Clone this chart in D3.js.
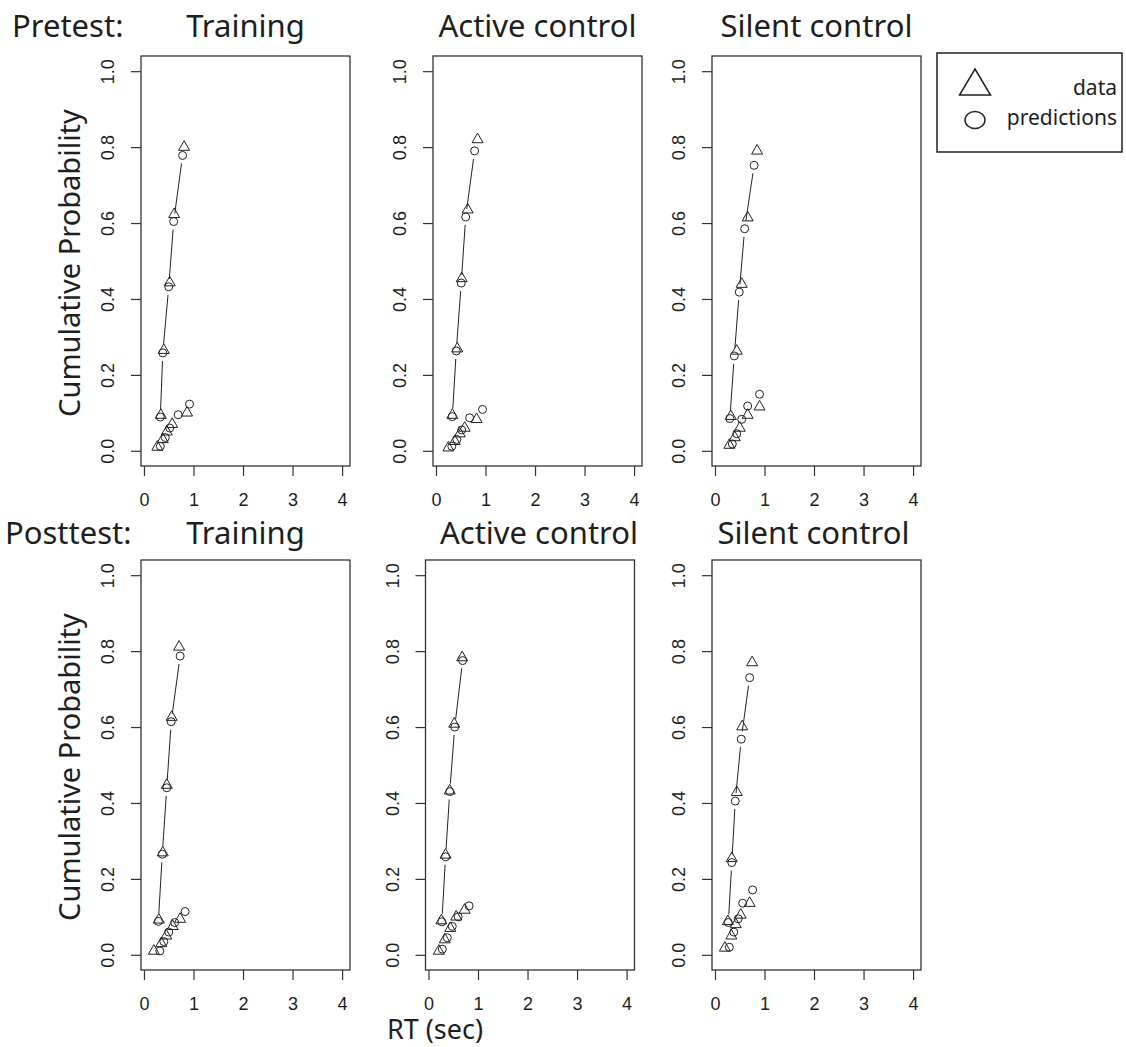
<!DOCTYPE html>
<html>
<head>
<meta charset="utf-8">
<script src="https://cdn.jsdelivr.net/npm/d3@7"></script>
<style>
  html, body { margin: 0; padding: 0; background: #fff; }
  svg { display: block; }
</style>
</head>
<body>
<svg id="chart" width="1126" height="1047"></svg>
<script>
// Conditions and sessions
const conditions = ["Training", "Active control", "Silent control"];
const sessions = ["Pretest:", "Posttest:"];
const xTicks = [0, 1, 2, 3, 4];
const yTicks = [0, 0.2, 0.4, 0.6, 0.8, 1.0];
const legendLabels = ["data", "predictions"];

// Quantile RTs (sec) and cumulative probabilities: [rt, p]
// Pretest – Training
const preTrainingDataCorrect = [[0.34, 0.094], [0.40, 0.265], [0.52, 0.443], [0.61, 0.623], [0.81, 0.800]];
const preTrainingPredCorrect = [[0.33, 0.089], [0.38, 0.258], [0.50, 0.432], [0.60, 0.604], [0.78, 0.778]];
const preTrainingDataError   = [[0.27, 0.010], [0.38, 0.030], [0.46, 0.050], [0.57, 0.070], [0.87, 0.100]];
const preTrainingPredError   = [[0.33, 0.012], [0.43, 0.035], [0.52, 0.060], [0.69, 0.095], [0.92, 0.123]];
// Pretest – Active control
const preActiveDataCorrect = [[0.33, 0.094], [0.43, 0.269], [0.52, 0.454], [0.64, 0.635], [0.84, 0.820]];
const preActivePredCorrect = [[0.33, 0.090], [0.41, 0.263], [0.51, 0.442], [0.60, 0.616], [0.78, 0.790]];
const preActiveDataError   = [[0.25, 0.008], [0.38, 0.025], [0.48, 0.045], [0.58, 0.060], [0.82, 0.083]];
const preActivePredError   = [[0.32, 0.012], [0.42, 0.030], [0.52, 0.055], [0.68, 0.087], [0.94, 0.109]];
// Pretest – Silent control
const preSilentDataCorrect = [[0.32, 0.091], [0.44, 0.263], [0.54, 0.439], [0.66, 0.614], [0.85, 0.790]];
const preSilentPredCorrect = [[0.30, 0.085], [0.39, 0.250], [0.49, 0.418], [0.60, 0.585], [0.79, 0.752]];
const preSilentDataError   = [[0.29, 0.015], [0.40, 0.035], [0.50, 0.060], [0.66, 0.094], [0.90, 0.116]];
const preSilentPredError   = [[0.35, 0.018], [0.44, 0.045], [0.54, 0.083], [0.66, 0.118], [0.90, 0.149]];
// Posttest – Training
const postTrainingDataCorrect = [[0.30, 0.092], [0.38, 0.269], [0.46, 0.447], [0.56, 0.626], [0.71, 0.811]];
const postTrainingPredCorrect = [[0.29, 0.088], [0.37, 0.265], [0.46, 0.440], [0.55, 0.614], [0.73, 0.787]];
const postTrainingDataError   = [[0.20, 0.010], [0.35, 0.030], [0.45, 0.050], [0.58, 0.075], [0.73, 0.094]];
const postTrainingPredError   = [[0.32, 0.010], [0.40, 0.035], [0.50, 0.060], [0.62, 0.085], [0.83, 0.114]];
// Posttest – Active control
const postActiveDataCorrect = [[0.26, 0.090], [0.345, 0.263], [0.43, 0.432], [0.52, 0.608], [0.68, 0.783]];
const postActivePredCorrect = [[0.27, 0.087], [0.345, 0.258], [0.43, 0.430], [0.53, 0.600], [0.69, 0.775]];
const postActiveDataError   = [[0.21, 0.010], [0.33, 0.040], [0.44, 0.070], [0.56, 0.100], [0.73, 0.118]];
const postActivePredError   = [[0.28, 0.015], [0.38, 0.045], [0.48, 0.075], [0.60, 0.100], [0.82, 0.129]];
// Posttest – Silent control
const postSilentDataCorrect = [[0.26, 0.088], [0.34, 0.254], [0.44, 0.428], [0.55, 0.601], [0.75, 0.770]];
const postSilentPredCorrect = [[0.27, 0.085], [0.34, 0.243], [0.41, 0.405], [0.53, 0.568], [0.70, 0.730]];
const postSilentDataError   = [[0.20, 0.018], [0.33, 0.050], [0.42, 0.080], [0.52, 0.105], [0.70, 0.136]];
const postSilentPredError   = [[0.29, 0.020], [0.38, 0.060], [0.47, 0.095], [0.56, 0.136], [0.76, 0.171]];

const panelData = [
  [
    { dc: preTrainingDataCorrect, pc: preTrainingPredCorrect, de: preTrainingDataError, pe: preTrainingPredError },
    { dc: preActiveDataCorrect,   pc: preActivePredCorrect,   de: preActiveDataError,   pe: preActivePredError },
    { dc: preSilentDataCorrect,   pc: preSilentPredCorrect,   de: preSilentDataError,   pe: preSilentPredError }
  ],
  [
    { dc: postTrainingDataCorrect, pc: postTrainingPredCorrect, de: postTrainingDataError, pe: postTrainingPredError },
    { dc: postActiveDataCorrect,   pc: postActivePredCorrect,   de: postActiveDataError,   pe: postActivePredError },
    { dc: postSilentDataCorrect,   pc: postSilentPredCorrect,   de: postSilentDataError,   pe: postSilentPredError }
  ]
];

// ---- layout ----
const svg = d3.select("#chart");
svg.append("rect").attr("width", 1126).attr("height", 1047).attr("fill", "#fff");

const rowTop = [56, 560];
const boxH = 410, boxW = 209;
const colLeft = [[141, 433, 712], [141, 425.5, 712]];
const titleX = [[245.5, 537.5, 816.5], [245.5, 539, 813.5]];
const titleBaseline = [37, 544];
const sessionX = [12, 5];

const ink = "#1e1e1e";
const titleFont = "'Noto Sans', 'Open Sans', sans-serif";
const tickFont = "'Liberation Sans', Arial, sans-serif";

// R-style open triangle centred on its centroid
function triPath(s) {
  const h = s * 0.87;
  return `M0,${-h * 2 / 3}L${s / 2},${h / 3}L${-s / 2},${h / 3}Z`;
}

for (let r = 0; r < 2; r++) {
  svg.append("text")
    .attr("x", sessionX[r]).attr("y", titleBaseline[r])
    .attr("font-family", titleFont).attr("font-size", 31).attr("fill", ink)
    .text(sessions[r]);

  svg.append("text")
    .attr("transform", `translate(80,${rowTop[r] + boxH / 2 + 2}) rotate(-90)`)
    .attr("text-anchor", "middle")
    .attr("font-family", titleFont).attr("font-size", 29).attr("fill", ink)
    .text("Cumulative Probability");

  for (let c = 0; c < 3; c++) {
    const left = colLeft[r][c], top = rowTop[r];
    const x = d3.scaleLinear().domain([-0.06, 4.16]).range([left, left + boxW]);
    const y = d3.scaleLinear().domain([-0.04, 1.04]).range([top + boxH, top]);
    const g = svg.append("g");

    svg.append("text")
      .attr("x", titleX[r][c]).attr("y", titleBaseline[r])
      .attr("text-anchor", "middle")
      .attr("font-family", titleFont).attr("font-size", 31).attr("fill", ink)
      .text(conditions[c]);

    // x axis
    const xa = g.append("g").attr("transform", `translate(0,${top + boxH})`)
      .call(d3.axisBottom(x).tickValues(xTicks).tickSize(10).tickPadding(17).tickFormat(d3.format("d")));
    xa.select(".domain").remove();
    xa.selectAll("line").attr("stroke", "#333").attr("stroke-width", 1.2);
    xa.selectAll("text").attr("font-family", tickFont).attr("font-size", 18).attr("fill", ink);

    // y axis with labels rotated parallel to the axis
    const ya = g.append("g").attr("transform", `translate(${left},0)`)
      .call(d3.axisLeft(y).tickValues(yTicks).tickSize(10).tickFormat(d3.format(".1f")));
    ya.select(".domain").remove();
    ya.selectAll("line").attr("stroke", "#333").attr("stroke-width", 1.2);
    ya.selectAll("text")
      .attr("x", null).attr("dy", null)
      .attr("text-anchor", "middle")
      .attr("transform", "translate(-27,0) rotate(-90)")
      .attr("font-family", tickFont).attr("font-size", 18).attr("fill", ink);

    // frame
    g.append("rect")
      .attr("x", left).attr("y", top).attr("width", boxW).attr("height", boxH)
      .attr("fill", "none").attr("stroke", "#333").attr("stroke-width", 1.3);

    const d = panelData[r][c];

    // prediction lines with gaps around the points
    const gap = 8;
    [d.pc, d.pe].forEach(series => {
      for (let i = 0; i < series.length - 1; i++) {
        const x1 = x(series[i][0]), y1 = y(series[i][1]);
        const x2 = x(series[i + 1][0]), y2 = y(series[i + 1][1]);
        const len = Math.hypot(x2 - x1, y2 - y1);
        if (len <= 2 * gap + 2) continue;
        const ux = (x2 - x1) / len, uy = (y2 - y1) / len;
        g.append("line")
          .attr("x1", x1 + ux * gap).attr("y1", y1 + uy * gap)
          .attr("x2", x2 - ux * gap).attr("y2", y2 - uy * gap)
          .attr("stroke", "#222").attr("stroke-width", 1);
      }
    });

    // predictions: open circles
    g.selectAll(null).data(d.pc.concat(d.pe)).enter().append("circle")
      .attr("cx", p => x(p[0])).attr("cy", p => y(p[1])).attr("r", 4)
      .attr("fill", "none").attr("stroke", "#222").attr("stroke-width", 1);

    // data: open triangles
    g.selectAll(null).data(d.dc.concat(d.de)).enter().append("path")
      .attr("d", triPath(11))
      .attr("transform", p => `translate(${x(p[0])},${y(p[1])})`)
      .attr("fill", "none").attr("stroke", "#222").attr("stroke-width", 1);
  }
}

// x axis title
svg.append("text")
  .attr("x", 435).attr("y", 1039)
  .attr("text-anchor", "middle")
  .attr("font-family", titleFont).attr("font-size", 27).attr("fill", ink)
  .text("RT (sec)");

// legend
const lg = svg.append("g");
lg.append("rect").attr("x", 937).attr("y", 53).attr("width", 185).attr("height", 99)
  .attr("fill", "#fff").attr("stroke", "#222").attr("stroke-width", 1.5);
lg.append("path").attr("d", "M975,69L990.5,95L959.5,95Z")
  .attr("fill", "none").attr("stroke", "#222").attr("stroke-width", 1.5);
lg.append("ellipse").attr("cx", 975).attr("cy", 120).attr("rx", 10).attr("ry", 8.5)
  .attr("fill", "none").attr("stroke", "#222").attr("stroke-width", 1.5);
lg.selectAll(null).data(legendLabels).enter().append("text")
  .attr("x", 1117).attr("y", (t, i) => 95 + i * 30)
  .attr("text-anchor", "end")
  .attr("font-family", titleFont).attr("font-size", 21).attr("fill", ink)
  .text(t => t);
</script>
</body>
</html>
